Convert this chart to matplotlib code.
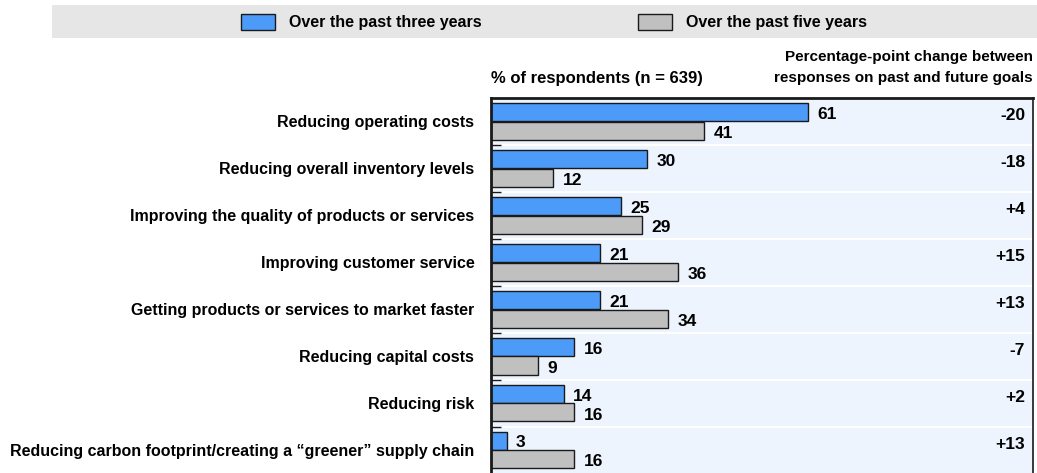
import matplotlib

matplotlib.use("Agg")
import matplotlib.pyplot as plt
from matplotlib.patches import Rectangle
import numpy as np

plt.rcParams["font.family"] = ["Liberation Sans", "DejaVu Sans"]
plt.rcParams["font.weight"] = "bold"
FS = 11.5

categories = [
    "Reducing operating costs",
    "Reducing overall inventory levels",
    "Improving the quality of products or services",
    "Improving customer service",
    "Getting products or services to market faster",
    "Reducing capital costs",
    "Reducing risk",
    "Reducing carbon footprint/creating a \u201cgreener\u201d supply chain",
]
past_three = [61, 30, 25, 21, 21, 16, 14, 3]
past_five = [41, 12, 29, 36, 34, 9, 16, 16]
pp_change = ["-20", "-18", "+4", "+15", "+13", "-7", "+2", "+13"]

BLUE = "#4d9bf8"
GREY = "#c0c0c0"
EDGE = "#1a1a1a"
PANEL = "#edf4fd"

W, H = 1037, 473
fig = plt.figure(figsize=(W / 100, H / 100), dpi=100)

# axes placed in pixel terms
x0, x1 = 491, 1033
y_top, y_bot = 98, 475
ax = fig.add_axes([x0 / W, 1 - y_bot / H, (x1 - x0) / W, (y_bot - y_top) / H])
ax.set_facecolor(PANEL)

y = np.arange(len(categories))
bh = 0.385
ax.barh(y - bh / 2 - 0.005, past_three, height=bh, color=BLUE, edgecolor=EDGE, linewidth=1)
ax.barh(y + bh / 2 + 0.005, past_five, height=bh, color=GREY, edgecolor=EDGE, linewidth=1)

for i in range(len(categories)):
    ax.text(past_three[i] + 1.8, y[i] - bh / 2 + 0.04, str(past_three[i]),
            va="center", ha="left", fontsize=12.5)
    ax.text(past_five[i] + 1.8, y[i] + bh / 2 + 0.06, str(past_five[i]),
            va="center", ha="left", fontsize=12.5)
    ax.text(102.7, y[i] - 0.12, pp_change[i], va="center", ha="right", fontsize=12.5)
    if i < len(categories) - 1:
        ax.axhline(i + 0.5, color="white", linewidth=1.5, zorder=0.5)

ax.set_xlim(0, 104.2)
ax.set_ylim(len(categories) - 0.5 + 0.03, -0.5)
ax.set_xticks([])
ax.set_yticks(y)
ax.set_yticklabels(categories, fontsize=FS)
ax.tick_params(axis="y", length=0, pad=12)
ax.set_yticks(y[:-1] + 0.5, minor=True)
ax.tick_params(axis="y", which="minor", direction="in", length=7, width=1, color=EDGE)

for side in ["left", "top", "right"]:
    ax.spines[side].set_color(EDGE)
ax.spines["left"].set_linewidth(2)
ax.spines["top"].set_linewidth(2)
ax.spines["right"].set_linewidth(1.2)
ax.spines["bottom"].set_visible(False)

# headers above the panel
fig.text(x0 / W, 1 - 78 / H, "% of respondents (n = 639)", ha="left", va="center", fontsize=FS + 0.5)
fig.text(x1 / W, 1 - 57 / H, "Percentage-point change between", ha="right", va="center", fontsize=11)
fig.text(x1 / W, 1 - 78 / H, "responses on past and future goals", ha="right", va="center", fontsize=11)

# legend band
fig.patches.append(Rectangle((52 / W, 1 - 38 / H), (W - 52) / W, 33 / H,
                             transform=fig.transFigure, facecolor="#e6e6e6", edgecolor="none"))
for px, color, label in [(241, BLUE, "Over the past three years"), (638, GREY, "Over the past five years")]:
    fig.patches.append(Rectangle((px / W, 1 - 30 / H), 34 / W, 16 / H, transform=fig.transFigure,
                                 facecolor=color, edgecolor=EDGE, linewidth=1))
    fig.text((px + 48) / W, 1 - 22 / H, label, ha="left", va="center", fontsize=FS)

fig.savefig("out.png", dpi=100)
